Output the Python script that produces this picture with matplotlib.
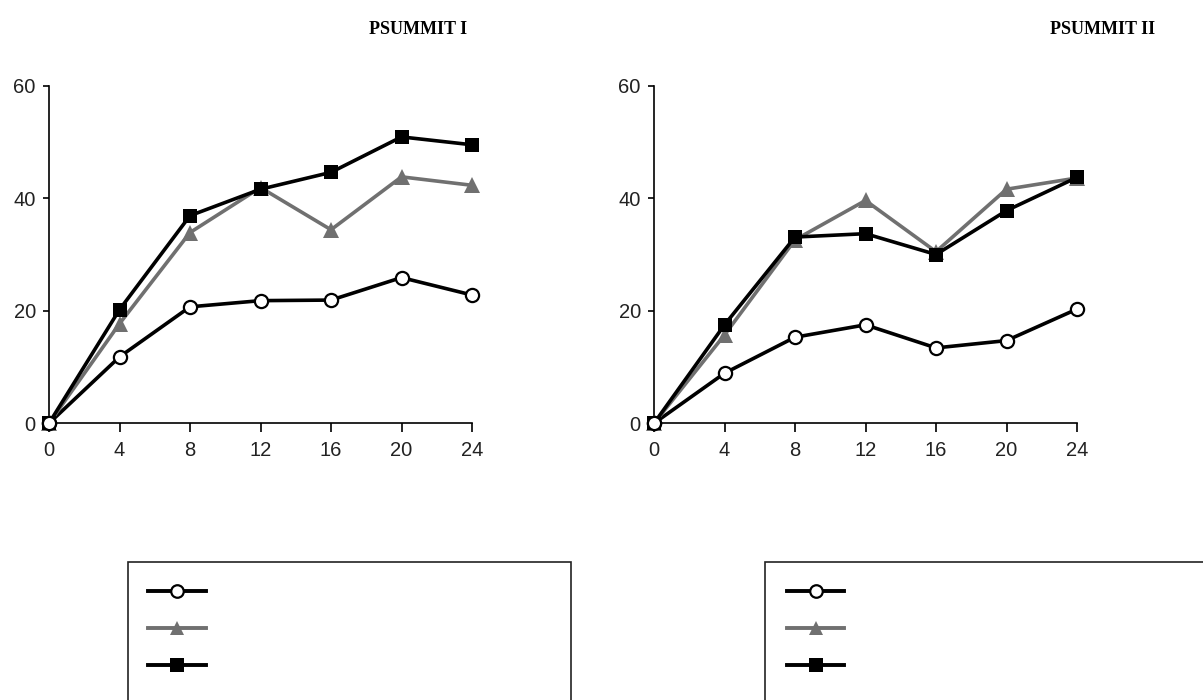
import matplotlib
matplotlib.use("Agg")
import matplotlib.pyplot as plt
from matplotlib.lines import Line2D
from matplotlib.patches import Rectangle

# ---- data ----
weeks = [0, 4, 8, 12, 16, 20, 24]
x_ticks = [0, 4, 8, 12, 16, 20, 24]
y_ticks = [0, 20, 40, 60]
panel_titles = ["PSUMMIT I", "PSUMMIT II"]

p1_circle = [0, 11.8, 20.7, 21.8, 21.9, 25.9, 22.8]
p1_triangle = [0, 17.7, 33.9, 41.9, 34.4, 43.8, 42.3]
p1_square = [0, 20.2, 36.9, 41.6, 44.6, 50.9, 49.5]

p2_circle = [0, 8.9, 15.3, 17.5, 13.4, 14.7, 20.3]
p2_triangle = [0, 15.7, 32.6, 39.6, 30.5, 41.6, 43.6]
p2_square = [0, 17.5, 33.1, 33.7, 30.0, 37.8, 43.7]

GRAY = "#707070"
W, H = 1203, 700

plt.rcParams['font.family'] = ['Liberation Sans', 'DejaVu Sans']
fig = plt.figure(figsize=(W / 100, H / 100), dpi=100)


def fx(px):
    return px / W


def fy(py):
    return 1 - py / H


styles = [
    dict(color="black", marker="o", mfc="white", mec="black", ms=9.5, mew=1.6),
    dict(color=GRAY, marker="^", mfc=GRAY, mec=GRAY, ms=11, mew=0),
    dict(color="black", marker="s", mfc="black", mec="black", ms=10.5, mew=0),
]

panels = [
    (49, [p1_circle, p1_triangle, p1_square]),
    (654, [p2_circle, p2_triangle, p2_square]),
]

y_top, y_bot = 85.7, 423.3
for left_px, series in panels:
    ax = fig.add_axes([fx(left_px), fy(y_bot), 423 / W, (y_bot - y_top) / H])
    for vals, st in zip(series, styles):
        ax.plot(weeks, vals, lw=2.6, clip_on=False, zorder=3, **st)
    ax.plot([weeks[0]], [series[0][0]], lw=0, clip_on=False, zorder=5,
            marker="o", mfc="white", mec="black", ms=9.5, mew=1.6)
    ax.set_xlim(0, 24)
    ax.set_ylim(0, 60)
    ax.set_xticks(x_ticks)
    ax.set_yticks(y_ticks)
    for s in ["top", "right"]:
        ax.spines[s].set_visible(False)
    for s in ["left", "bottom"]:
        ax.spines[s].set_linewidth(1.2)
    ax.tick_params(axis="both", direction="out", width=1.2,
                   labelsize=14.5, colors="black")
    ax.tick_params(axis="x", length=6.5, pad=6)
    ax.tick_params(axis="y", length=4.5, pad=5)
    for lab in ax.get_xticklabels() + ax.get_yticklabels():
        lab.set_color("#222222")

# panel titles
fig.text(fx(418), fy(30), panel_titles[0], ha="center", va="center",
         fontsize=13, fontweight="bold", family=["Liberation Serif", "DejaVu Serif"])
fig.text(fx(1103), fy(30), panel_titles[1], ha="center", va="center",
         fontsize=13, fontweight="bold", family=["Liberation Serif", "DejaVu Serif"])

# legend boxes (labels empty in the reference)
for (bx0, bx1, lx0, lx1) in [(128, 571, 148, 206), (765, 1215, 787, 844)]:
    fig.add_artist(Rectangle((fx(bx0), fy(712)), fx(bx1 - bx0), (712 - 562) / H,
                             transform=fig.transFigure, fill=False,
                             edgecolor="#222222", lw=1.2))
    for row_y, st in zip([591, 628, 665], styles):
        fig.add_artist(Line2D([fx(lx0), fx(lx1)], [fy(row_y), fy(row_y)],
                              transform=fig.transFigure, lw=2.8, color=st["color"]))
        fig.add_artist(Line2D([fx((lx0 + lx1) / 2)], [fy(row_y)],
                              transform=fig.transFigure, lw=0,
                              marker=st["marker"], mfc=st["mfc"], mec=st["mec"],
                              ms=st["ms"] * 0.95, mew=st["mew"]))

fig.savefig("out.png", dpi=100)
